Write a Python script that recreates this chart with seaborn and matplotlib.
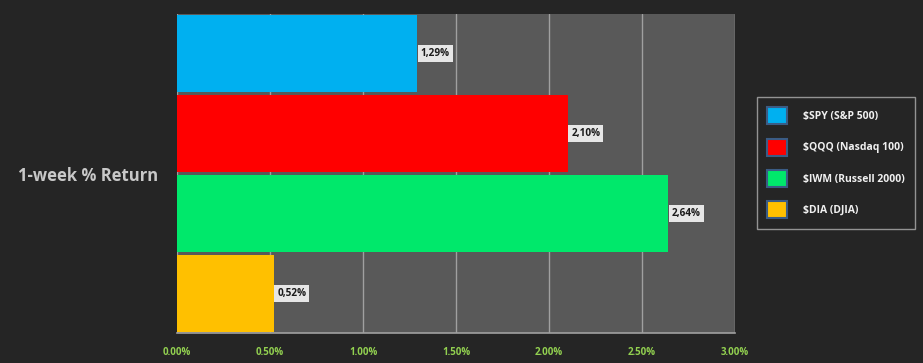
import numpy as np
import pandas as pd
import seaborn as sns
import matplotlib.pyplot as plt
from matplotlib.patches import Patch
from matplotlib.ticker import FuncFormatter

# data
tickers = ["$SPY (S&P 500)", "$QQQ (Nasdaq 100)", "$IWM (Russell 2000)", "$DIA (DJIA)"]
returns = [1.29, 2.10, 2.64, 0.52]
colors = ["#00b0f0", "#ff0000", "#00e86b", "#ffc000"]
xticks = [0.0, 0.5, 1.0, 1.5, 2.0, 2.5, 3.0]

df = pd.DataFrame({"ticker": tickers, "ret": returns})

sns.set_style("dark")
plt.rcParams['font.family'] = ['Open Sans', 'DejaVu Sans']

fig = plt.figure(figsize=(9.23, 3.63), dpi=100, facecolor="#252525")
ax = fig.add_axes([177/923, 30/363, 558/923, 319/363])
ax.set_facecolor("#595959")

sns.barplot(data=df, x="ret", y="ticker", hue="ticker", palette=colors,
            orient="h", width=0.965, saturation=1, legend=False, ax=ax,
            linewidth=0, zorder=3)

ax.set_xlim(0, 3.0)
ax.set_xticks(xticks)
ax.xaxis.set_major_formatter(FuncFormatter(lambda v, p: "%.2f%%" % v))
ax.tick_params(axis="x", colors="#92d050", labelsize=7, length=4, width=1, pad=6)
ax.tick_params(axis="x", color="#a0a0a0")
for lb in ax.get_xticklabels():
    lb.set_fontweight("bold")
ax.set_yticks([])
ax.set_xlabel("")
ax.set_ylabel("")
ax.grid(axis="x", color="#a0a0a0", linewidth=1, zorder=0)
ax.grid(axis="y", visible=False)
for s in ["top", "right", "left"]:
    ax.spines[s].set_visible(False)
ax.spines["bottom"].set_color("#a0a0a0")
ax.spines["bottom"].set_linewidth(1.2)

# value labels
for i, v in enumerate(returns):
    ax.text(v + 0.02, i, ("%.2f%%" % v).replace(".", ","), va="center", ha="left",
            fontsize=7.2, fontweight="bold", color="#1a1a1a", zorder=5,
            bbox=dict(boxstyle="square,pad=0.3", facecolor="#e6e6e6", edgecolor="none"))

fig.text(88/923, 1 - 176/363, "1-week % Return", ha="center", va="center",
         fontsize=12, fontweight="bold", color="#c8c8c8")

handles = [Patch(facecolor=c, edgecolor="#3b5c85", linewidth=1.5, label=t)
           for c, t in zip(colors, tickers)]
leg = fig.legend(handles=handles, loc="upper left", bbox_to_anchor=(757/923, 1 - 97/363),
                 frameon=True, fancybox=False, facecolor="#252525", edgecolor="#b0b0b0",
                 labelcolor="#f0f0f0", prop={"weight": "bold", "size": 7.5},
                 handlelength=1.9, handleheight=2.1, labelspacing=1.4,
                 borderpad=1.0, handletextpad=1.5, borderaxespad=0)
leg.get_frame().set_linewidth(1)

fig.savefig("out.png", dpi=100, facecolor=fig.get_facecolor())
